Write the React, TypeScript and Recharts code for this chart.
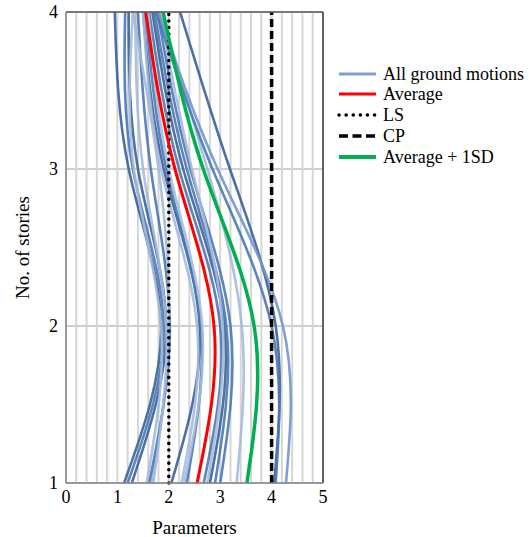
import React from 'react';
import { LineChart, Line, XAxis, YAxis, CartesianGrid, ReferenceLine } from 'recharts';

const stories = [1, 2, 3, 4];

// each entry: parameter value at story 1, 2, 3, 4
const groundMotions: number[][] = [
  [1.13, 1.85, 1.22, 0.95],
  [1.2, 1.9, 1.3, 1.15],
  [1.28, 1.95, 1.4, 1.22],
  [1.57, 1.85, 1.32, 1.3],
  [1.67, 1.95, 1.5, 1.35],
  [1.62, 2.02, 1.65, 1.4],
  [2.05, 2.6, 1.9, 1.5],
  [2.25, 2.55, 1.85, 1.5],
  [2.35, 2.62, 1.95, 1.55],
  [2.68, 3.0, 2.2, 1.62],
  [2.8, 3.08, 2.28, 1.68],
  [2.9, 3.12, 2.35, 1.72],
  [3.0, 3.2, 2.42, 1.78],
  [2.75, 3.05, 2.45, 1.82],
  [3.32, 3.42, 2.75, 1.85],
  [4.05, 4.08, 3.19, 2.22],
  [4.28, 4.22, 2.95, 1.8],
  [4.08, 4.0, 2.85, 1.75],
  [1.7, 2.0, 1.8, 1.3],
  [2.3, 2.65, 2.0, 1.6],
];
const motionTones = [
  'dark', 'mid', 'dark', 'light', 'light', 'mid', 'dark', 'light', 'mid', 'mid',
  'dark', 'mid', 'mid', 'light', 'light', 'dark', 'lightmid', 'mid', 'light', 'light',
];
const average = [2.55, 2.88, 2.12, 1.55];
const averagePlus1SD = [3.52, 3.66, 2.67, 1.89];
const lsLimit = [2, 2, 2, 2];
const cpLimit = [4, 4, 4, 4];

const xTicks = [0, 0.2, 0.4, 0.6, 0.8, 1, 1.2, 1.4, 1.6, 1.8, 2, 2.2, 2.4, 2.6, 2.8, 3, 3.2, 3.4, 3.6, 3.8, 4, 4.2, 4.4, 4.6, 4.8, 5];
const yTicks = [1, 2, 3, 4];

const toneColors: Record<string, string> = {
  dark: '#3a6299',
  mid: '#4a78b4',
  lightmid: '#7196cb',
  light: '#a4badd',
};

const data = stories.map((s, i) => {
  const row: Record<string, number> = {
    story: s,
    avg: average[i],
    sd: averagePlus1SD[i],
    ls: lsLimit[i],
    cp: cpLimit[i],
  };
  groundMotions.forEach((g, j) => {
    row['gm' + j] = g[i];
  });
  return row;
});

const FONT = "'Liberation Serif', Tinos, 'Times New Roman', Times, serif";

const legendItems = [
  { label: 'All ground motions', color: '#7f9fd2', dash: undefined as string | undefined, width: 3 },
  { label: 'Average', color: '#ff0000', dash: undefined, width: 3 },
  { label: 'LS', color: '#000000', dash: '0.1 7', width: 3.5 },
  { label: 'CP', color: '#000000', dash: '9 4.5', width: 3.5 },
  { label: 'Average + 1SD', color: '#00b050', dash: undefined, width: 4 },
];
const legendRows = [74, 94, 115, 136, 157];

const fmt = (v: number) => (Math.abs(v - Math.round(v)) < 1e-6 ? String(Math.round(v)) : '');

export default function App() {
  return (
    <div style={{ position: 'absolute', left: 0, top: 0, width: 530, height: 537, background: '#fff', fontFamily: FONT }}>
      <LineChart
        width={530}
        height={537}
        data={data}
        layout="vertical"
        margin={{ top: 12, right: 207, bottom: 0, left: 0 }}
        style={{ fontFamily: FONT }}
      >
        <CartesianGrid
          vertical={(p: any) => (
            <line key={p.key} x1={p.x1} y1={p.y1} x2={p.x2} y2={p.y2} stroke="#d6d6d6" strokeWidth={2} />
          )}
          horizontal={(p: any) => (
            <line key={p.key} x1={p.x1} y1={p.y1} x2={p.x2} y2={p.y2} stroke="#9e9e9e" strokeWidth={1} />
          )}
        />
        <XAxis
          type="number"
          domain={[0, 5]}
          ticks={xTicks}
          interval={0}
          tickFormatter={fmt}
          tickLine={false}
          tickSize={0}
          tickMargin={7}
          axisLine={{ stroke: '#868686', strokeWidth: 1.5 }}
          tick={{ fill: '#000', fontSize: 18, fontFamily: FONT }}
          height={54}
          allowDecimals
          label={{ value: 'Parameters', position: 'insideBottom', offset: 3, fill: '#000', fontSize: 19, fontFamily: FONT }}
        />
        <YAxis
          type="number"
          dataKey="story"
          domain={[1, 4]}
          ticks={yTicks}
          reversed
          tickLine={false}
          tickSize={0}
          tickMargin={8}
          axisLine={{ stroke: '#868686', strokeWidth: 1.5 }}
          tick={{ fill: '#000', fontSize: 18, fontFamily: FONT }}
          width={66}
          label={{
            value: 'No. of stories',
            angle: -90,
            position: 'insideLeft',
            offset: 22,
            style: { textAnchor: 'middle', fontFamily: FONT },
            fill: '#000',
            fontSize: 19,
          }}
        />
        {groundMotions.map((_, j) => (
          <Line
            key={'gm' + j}
            dataKey={'gm' + j}
            type="natural"
            stroke={toneColors[motionTones[j]]}
            strokeWidth={2.6}
            strokeOpacity={0.9}
            dot={false}
            activeDot={false}
            isAnimationActive={false}
          />
        ))}
        <Line dataKey="ls" type="linear" stroke="#000" strokeWidth={3.5} strokeDasharray="0.1 6.5" strokeLinecap="round" dot={false} activeDot={false} isAnimationActive={false} />
        <Line dataKey="cp" type="linear" stroke="#000" strokeWidth={3.5} strokeDasharray="8 4" dot={false} activeDot={false} isAnimationActive={false} />
        <Line dataKey="avg" type="natural" stroke="#ff0000" strokeWidth={3} dot={false} activeDot={false} isAnimationActive={false} />
        <Line dataKey="sd" type="natural" stroke="#00b050" strokeWidth={3.5} dot={false} activeDot={false} isAnimationActive={false} />
        <ReferenceLine x={5} stroke="#3a3a3a" strokeWidth={1.5} />
        <ReferenceLine y={4} stroke="#5a5a5a" strokeWidth={1.5} />
      </LineChart>
      <svg width={530} height={537} style={{ position: 'absolute', left: 0, top: 0, pointerEvents: 'none' }}>
        {legendItems.map((it, i) => (
          <g key={it.label}>
            <line
              x1={339}
              x2={376}
              y1={legendRows[i]}
              y2={legendRows[i]}
              stroke={it.color}
              strokeWidth={it.width}
              strokeDasharray={it.dash}
              strokeLinecap={it.label === 'LS' ? 'round' : 'butt'}
            />
            <text x={383} y={legendRows[i] + 6} fontSize={18} style={{ fontFamily: FONT }} fill="#000">
              {it.label}
            </text>
          </g>
        ))}
      </svg>
    </div>
  );
}
